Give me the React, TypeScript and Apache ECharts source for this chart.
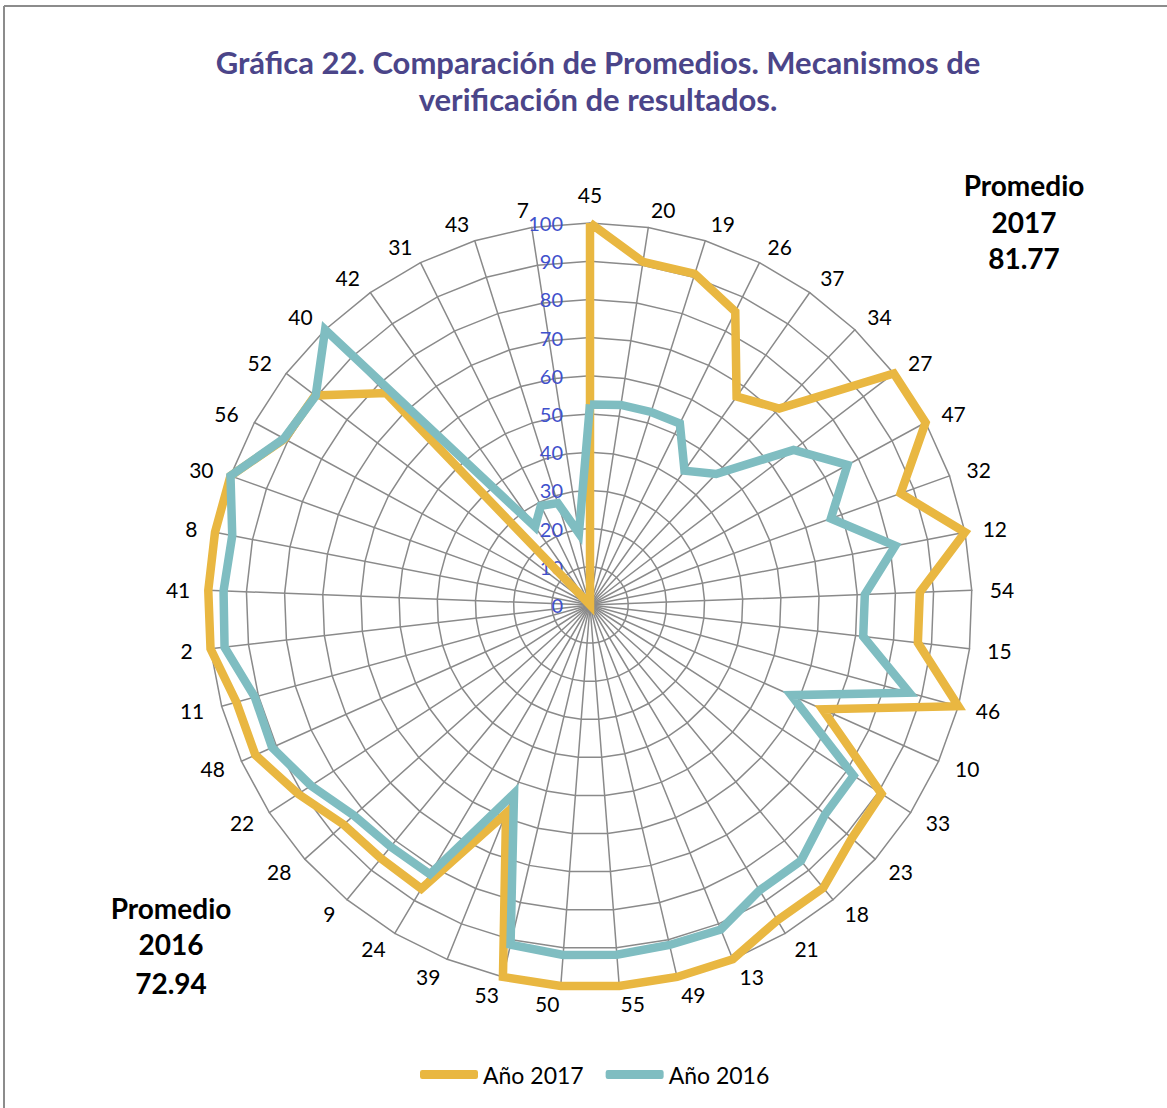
import React, { useEffect, useRef } from 'react';
import * as echarts from 'echarts';

// Categories listed clockwise starting at the top
const categories = ['45','20','19','26','37','34','27','47','32','12','54','15','46','10','33','23','18','21','13','49','55','50','53','39','24','9','28','22','48','11','2','41','8','30','56','52','40','42','31','43','7'];
const values2017 = [100, 90.9, 90.9, 85.7, 66.7, 71.4, 100, 100, 86.4, 100, 86.4, 86.4, 100, 66.7, 90.9, 91.8, 96, 96, 100, 100, 100, 100, 100, 58.8, 86.4, 86, 86.4, 91, 96, 96, 100, 100, 100, 100, 91, 90.5, 77, 0, 0, 0, 0];
const values2016 = [52.5, 53, 53, 53, 43, 47.6, 67, 76.7, 67, 81.4, 72, 72, 86.7, 57.7, 82.2, 82.4, 86.8, 86.9, 91.6, 91.4, 91.8, 91.9, 91.3, 53.2, 82, 82, 82.8, 87, 91.2, 91, 96.3, 96, 95.4, 100, 91.2, 90.3, 100, 25, 29, 28, 19];
const seriesNames = ['Año 2017', 'Año 2016'];
const titleLines = ['Gráfica 22. Comparación de Promedios. Mecanismos de', 'verificación de resultados.'];
const promedio2017 = ['Promedio', '2017', '81.77'];
const promedio2016 = ['Promedio', '2016', '72.94'];

const ORANGE = '#E9B741';
const TEAL = '#7FBDC1';
const GRID = '#8a8a8a';

// ECharts radar runs counter-clockwise; reorder so the picture runs clockwise
const order = [0, ...categories.slice(1).map((_, i) => categories.length - 1 - i)];

export default function App() {
  const ref = useRef<HTMLDivElement>(null);
  useEffect(() => {
    if (!ref.current) return;
    const chart = echarts.init(ref.current, undefined, { renderer: 'svg' });
    const font = 'Lato, "Open Sans", sans-serif';
    const indicator = order.map((i, k) => ({
      name: categories[i],
      min: 0,
      max: 100,
      axisLabel: { show: k === 0 },
    }));
    const textLines = (lines: string[], x: number, ys: number[], size: number, color: string) =>
      lines.map((t, i) => ({
        type: 'text',
        x,
        y: ys[i],
        style: {
          text: t,
          fill: color,
          font: `bold ${size}px ${font}`,
          textAlign: 'center',
          textVerticalAlign: 'middle',
        },
      }));
    chart.setOption({
      animation: false,
      backgroundColor: '#ffffff',
      graphic: [
        { type: 'line', shape: { x1: 4, y1: 6, x2: 1167, y2: 6 }, style: { stroke: '#8c8c8c', lineWidth: 2 } },
        { type: 'line', shape: { x1: 4, y1: 6, x2: 4, y2: 1108 }, style: { stroke: '#8c8c8c', lineWidth: 2 } },
        ...textLines(titleLines, 598, [62, 99], 31, '#4b4589'),
        ...textLines(promedio2017, 1024, [185, 222, 258], 28, '#000000'),
        ...textLines(promedio2016, 171, [908, 944, 983], 28, '#000000'),
      ],
      legend: {
        data: seriesNames,
        top: 1058,
        left: 415,
        icon: 'roundRect',
        itemWidth: 58,
        itemHeight: 9,
        itemGap: 22,
        textStyle: { fontSize: 23, fontFamily: font, color: '#000' },
      },
      radar: {
        center: [590, 605],
        radius: 382,
        startAngle: 90,
        splitNumber: 10,
        shape: 'polygon',
        indicator,
        nameGap: 18,
        axisName: { color: '#000', fontSize: 21, fontFamily: font },
        axisLine: { lineStyle: { color: GRID, width: 1.5 } },
        splitLine: { lineStyle: { color: GRID, width: 1.5 } },
        splitArea: { show: false },
        axisTick: { show: false },
        axisLabel: { show: false, color: '#3f51cc', fontSize: 20, fontFamily: font, margin: 27 },
      },
      series: [
        {
          type: 'radar',
          symbol: 'none',
          data: [
            {
              name: seriesNames[0],
              value: order.map((i) => values2017[i]),
              lineStyle: { color: ORANGE, width: 8.5, join: 'miter' },
              itemStyle: { color: ORANGE },
            },
            {
              name: seriesNames[1],
              value: order.map((i) => values2016[i]),
              lineStyle: { color: TEAL, width: 8.5, join: 'miter' },
              itemStyle: { color: TEAL },
            },
          ],
        },
      ],
    });
    return () => chart.dispose();
  }, []);
  return (
    <div
      ref={ref}
      style={{ position: 'fixed', left: 0, top: 0, width: 1167, height: 1108, background: '#fff' }}
    />
  );
}
